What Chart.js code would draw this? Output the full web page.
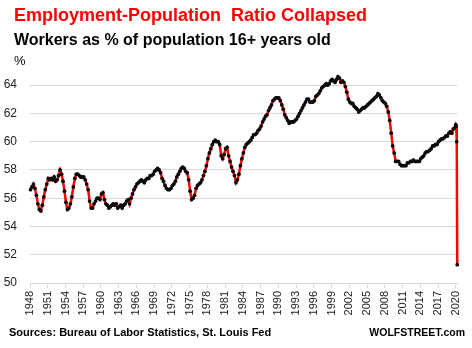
<!DOCTYPE html>
<html>
<head>
<meta charset="utf-8">
<script src="https://cdn.jsdelivr.net/npm/chart.js@4/dist/chart.umd.min.js"></script>
<style>
  html, body { margin: 0; padding: 0; background: #fff; }
  #wrap { position: relative; width: 472px; height: 348px; overflow: hidden; font-family: "Liberation Sans", Arial, sans-serif; }
  canvas { position: absolute; left: 0; top: 0; }
  .t { position: absolute; white-space: nowrap; line-height: 1; }
  #title { left: 14px; top: 6px; font-size: 18px; font-weight: bold; color: #ff0000; }
  #subtitle { left: 14px; top: 32px; font-size: 16px; font-weight: bold; color: #000; }
  #unit { left: 14px; top: 54px; font-size: 13px; color: #000; }
  #source { left: 9px; top: 327px; font-size: 11px; font-weight: bold; color: #000; }
  #brand { right: 7px; top: 327px; font-size: 10.5px; font-weight: bold; color: #000; }
</style>
</head>
<body>
<div id="wrap">
  <canvas id="c" width="472" height="348"></canvas>
  <div class="t" id="title">Employment-Population&nbsp; Ratio Collapsed</div>
  <div class="t" id="subtitle">Workers as % of population 16+ years old</div>
  <div class="t" id="unit">%</div>
  <div class="t" id="source">Sources: Bureau of Labor Statistics, St. Louis Fed</div>
  <div class="t" id="brand">WOLFSTREET.com</div>
</div>
<script>
// Employment-population ratio, quarterly values (Q1..Q4 per year), estimated from the chart
const q1948_1957 = [
  56.6, 56.8, 57.0, 56.7,
  56.2, 55.6, 55.2, 55.1,
  55.5, 56.1, 56.6, 57.0,
  57.4, 57.3, 57.4, 57.3,
  57.5, 57.2, 57.3, 57.6,
  58.0, 57.7, 57.2, 56.5,
  55.7, 55.2, 55.3, 55.6,
  56.1, 56.8, 57.4, 57.7,
  57.7, 57.6, 57.5, 57.5,
  57.5, 57.3, 57.0, 56.6
];
const q1958_1967 = [
  55.8, 55.3, 55.3, 55.6,
  55.8, 56.0, 56.0, 55.9,
  56.3, 56.4, 55.9, 55.6,
  55.5, 55.3, 55.4, 55.5,
  55.6, 55.5, 55.6, 55.3,
  55.4, 55.5, 55.3, 55.5,
  55.6, 55.8, 55.9, 55.6,
  56.0, 56.3, 56.6, 56.8,
  57.0, 57.1, 57.2, 57.3,
  57.2, 57.1, 57.3, 57.4
];
const q1968_1977 = [
  57.4, 57.6, 57.6, 57.7,
  57.9, 58.0, 58.1, 58.0,
  57.8, 57.4, 57.2, 56.9,
  56.7, 56.6, 56.6, 56.7,
  56.9, 57.0, 57.2, 57.5,
  57.7, 57.9, 58.1, 58.2,
  58.1, 57.9, 57.8, 57.3,
  56.5, 55.9, 56.0, 56.2,
  56.7, 56.9, 57.0, 57.1,
  57.3, 57.6, 57.9, 58.3
];
const q1978_1987 = [
  58.8, 59.2, 59.5, 59.8,
  60.0, 60.1, 60.0, 60.0,
  59.8, 59.0, 58.8, 59.1,
  59.5, 59.6, 59.0, 58.6,
  58.2, 57.9, 57.6, 57.1,
  57.3, 57.7, 58.3, 58.8,
  59.2, 59.6, 59.8, 59.9,
  60.0, 60.1, 60.3, 60.5,
  60.5, 60.6, 60.8, 60.9,
  61.1, 61.4, 61.6, 61.8
];
const q1988_1997 = [
  61.9, 62.2, 62.4, 62.6,
  62.9, 63.0, 63.1, 63.1,
  63.1, 62.9, 62.6, 62.3,
  61.9, 61.7, 61.5, 61.3,
  61.4, 61.4, 61.4, 61.5,
  61.6, 61.8, 62.0, 62.2,
  62.4, 62.6, 62.8, 63.0,
  63.0, 62.8, 62.8, 62.8,
  62.9, 63.2, 63.3, 63.4,
  63.6, 63.8, 63.9, 64.0
];
const q1998_2007 = [
  64.1, 64.0, 64.1, 64.3,
  64.4, 64.3, 64.2, 64.4,
  64.6, 64.5, 64.2, 64.3,
  64.2, 63.9, 63.5, 63.0,
  62.8, 62.7, 62.7, 62.5,
  62.4, 62.3, 62.1, 62.2,
  62.3, 62.4, 62.4, 62.5,
  62.6, 62.7, 62.8, 62.9,
  63.0, 63.1, 63.2, 63.4,
  63.3, 63.1, 62.9, 62.8
];
const q2008_2019 = [
  62.7, 62.5, 62.1, 61.5,
  60.6, 59.7, 59.2, 58.6,
  58.6, 58.6, 58.4, 58.3,
  58.3, 58.3, 58.3, 58.5,
  58.5, 58.6, 58.6, 58.7,
  58.6, 58.6, 58.6, 58.6,
  58.8, 58.9, 59.0, 59.2,
  59.3, 59.3, 59.4, 59.5,
  59.7, 59.7, 59.8, 59.8,
  60.0, 60.1, 60.2, 60.2,
  60.3, 60.4, 60.4, 60.6,
  60.7, 60.6, 60.9, 61.0
];
// Monthly 2020: Jan, Feb, Mar, Apr
const m2020 = [61.2, 61.1, 60.0, 51.3];

const tickYears = [1948, 1951, 1954, 1957, 1960, 1963, 1966, 1969, 1972, 1975, 1978, 1981,
  1984, 1987, 1990, 1993, 1996, 1999, 2002, 2005, 2008, 2011, 2014, 2017, 2020];
const yTicks = [50, 52, 54, 56, 58, 60, 62, 64];

const BASE = 1948;
const blocks = [[1948, q1948_1957], [1958, q1958_1967], [1968, q1968_1977],
  [1978, q1978_1987], [1988, q1988_1997], [1998, q1998_2007], [2008, q2008_2019]];
const points = [];
blocks.forEach(([start, arr]) => {
  arr.forEach((v, i) => {
    const yr = start + Math.floor(i / 4), q = i % 4;
    points.push({ x: (yr - BASE) * 12 + q * 3 + 1, y: v });
  });
});
m2020.forEach((v, m) => points.push({ x: (2020 - BASE) * 12 + m, y: v }));
const lastX = (2020 - BASE) * 12 + m2020.length - 1;

const tickFont = { family: "'Liberation Sans', Arial, sans-serif", size: 11 };

new Chart(document.getElementById('c'), {
  type: 'line',
  data: {
    datasets: [{
      data: points,
      borderColor: '#ff0000',
      borderWidth: 2.5,
      pointRadius: 1.9,
      pointBackgroundColor: '#0a0a0a',
      pointBorderWidth: 0,
      pointHoverRadius: 1.9,
      tension: 0,
      clip: 4
    }]
  },
  options: {
    responsive: false,
    devicePixelRatio: 1,
    animation: false,
    layout: { padding: { top: 71, left: 0, right: 11, bottom: 0 } },
    plugins: { legend: { display: false }, tooltip: { enabled: false }, title: { display: false } },
    scales: {
      x: {
        type: 'linear',
        min: 0,
        max: lastX,
        afterBuildTicks: (s) => { s.ticks = tickYears.map(y => ({ value: (y - BASE) * 12 })); },
        afterFit: (s) => { s.height = 65; },
        ticks: {
          autoSkip: false,
          minRotation: 90,
          maxRotation: 90,
          padding: 3,
          color: '#222',
          font: tickFont,
          callback: (v) => String(BASE + Math.round(v / 12))
        },
        grid: { drawOnChartArea: false, drawTicks: true, tickLength: 5, color: '#d9d9d9', tickColor: '#d9d9d9' },
        border: { display: true, color: '#d9d9d9', width: 1 }
      },
      y: {
        min: 50,
        max: 65,
        afterBuildTicks: (s) => { s.ticks = yTicks.map(v => ({ value: v })); },
        afterFit: (s) => { s.width = 30; },
        ticks: {
          padding: 13,
          color: '#222',
          font: { family: "'Liberation Sans', Arial, sans-serif", size: 12 },
          callback: (v) => String(v)
        },
        grid: { color: '#d9d9d9', drawTicks: false, lineWidth: 1 },
        border: { display: false }
      }
    }
  }
});
</script>
</body>
</html>
